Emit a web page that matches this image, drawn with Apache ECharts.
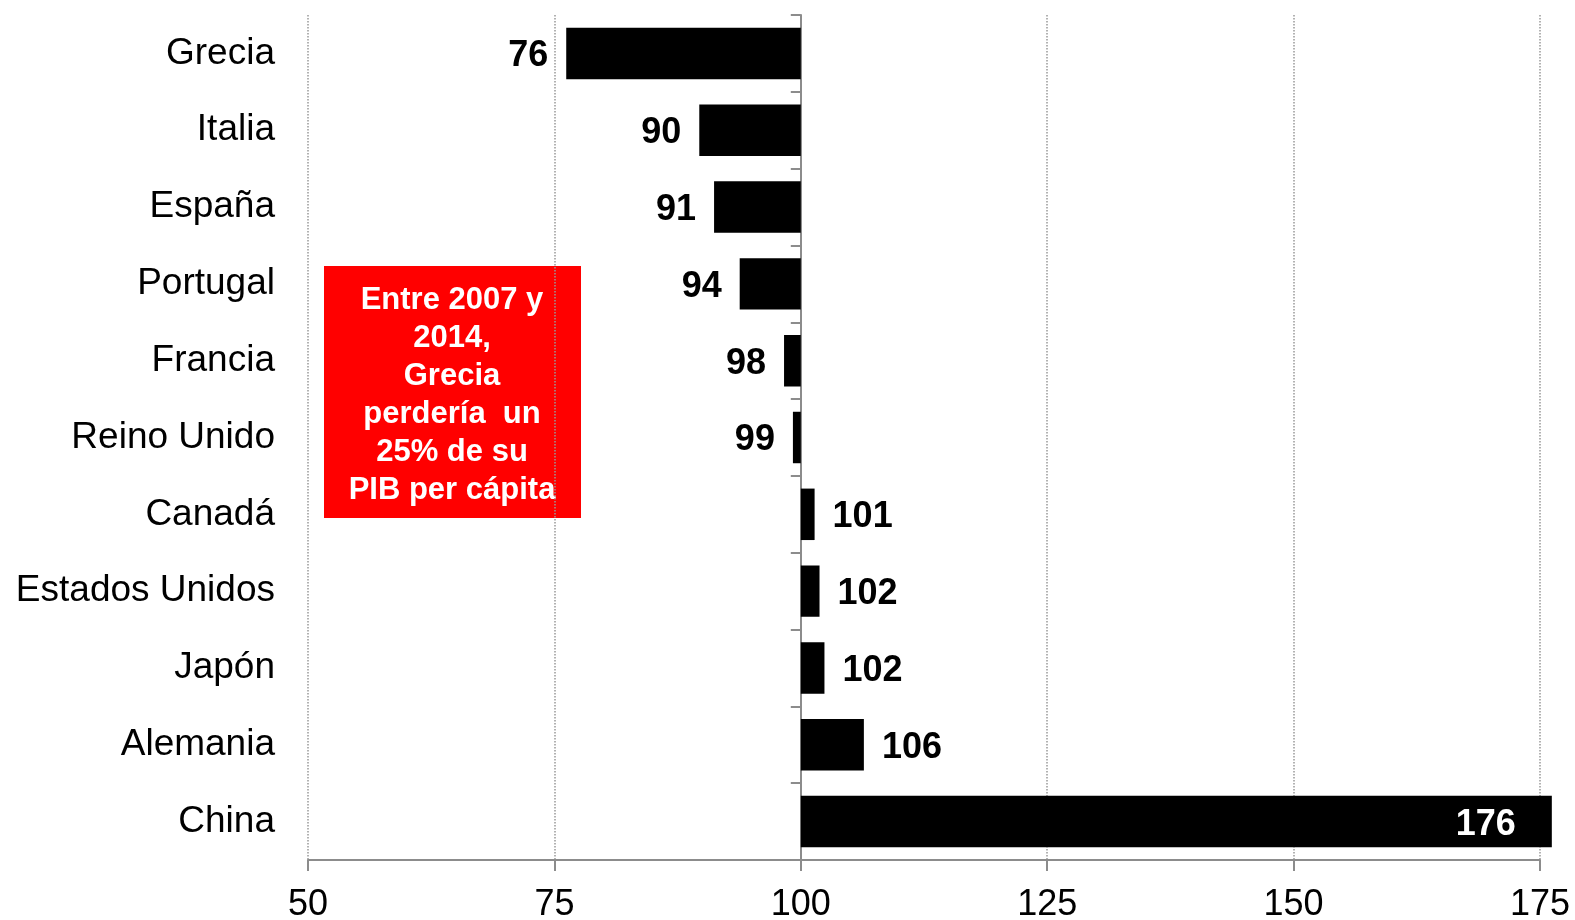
<!DOCTYPE html>
<html>
<head>
<meta charset="utf-8">
<script src="https://cdn.jsdelivr.net/npm/echarts@6/dist/echarts.min.js"></script>
<style>
  html, body { margin: 0; padding: 0; background: #fff; }
  #chart { width: 1575px; height: 920px; }
</style>
</head>
<body>
<div id="chart"></div>
<script>
// datos: PIB per cápita 2014 (2007 = 100)
const paises = ['Grecia', 'Italia', 'España', 'Portugal', 'Francia', 'Reino Unido',
  'Canadá', 'Estados Unidos', 'Japón', 'Alemania', 'China'];
const valores = [76.2, 89.7, 91.2, 93.8, 98.3, 99.2, 101.4, 101.9, 102.4, 106.4, 176.2];
const base = 100;
const ejeMin = 50;
const ejeMax = 175;
const ejeIntervalo = 25;
const notaTexto = 'Entre 2007 y\n2014,\nGrecia\nperdería  un\n25% de su\nPIB per cápita';

const fuente = '"Liberation Sans", Arial, sans-serif';
const gris = '#8c8c8c';

const gridLeft = 308, gridRight = 35, gridTop = 15, gridBottom = 60;
const gridWidth = 1575 - gridLeft - gridRight;
// la línea vertical con marcas va en x = 100
const offsetBase = -gridWidth * (base - ejeMin) / (ejeMax - ejeMin);

const chart = echarts.init(document.getElementById('chart'));

const option = {
  animation: false,
  textStyle: { fontFamily: fuente },
  grid: {
    left: gridLeft, right: gridRight, top: gridTop, bottom: gridBottom,
    outerBoundsMode: 'none'
  },
  xAxis: {
    type: 'value',
    min: ejeMin,
    max: ejeMax,
    interval: ejeIntervalo,
    axisLine: { show: true, lineStyle: { color: gris, width: 2 } },
    axisTick: { show: true, length: 11, lineStyle: { color: gris, width: 2 } },
    axisLabel: { fontSize: 36, color: '#000', margin: 27, fontFamily: fuente },
    splitLine: { show: true, lineStyle: { color: '#999', type: 'dotted', width: 1.5 } }
  },
  yAxis: [
    {
      type: 'category',
      data: paises,
      inverse: true,
      position: 'left',
      axisLine: { show: false },
      axisTick: { show: false },
      axisLabel: {
        fontSize: 37, color: '#000', margin: 33, fontFamily: fuente,
        padding: [6, 0, 0, 0]
      }
    },
    {
      type: 'category',
      data: paises,
      inverse: true,
      position: 'left',
      offset: offsetBase,
      axisLine: { show: true, lineStyle: { color: gris, width: 2 } },
      axisTick: { show: true, length: 10, lineStyle: { color: gris, width: 2 } },
      axisLabel: { show: false },
      splitLine: { show: false }
    }
  ],
  series: [{
    type: 'custom',
    xAxisIndex: 0,
    yAxisIndex: 0,
    z: 5,
    data: valores.map((v, i) => [v, i]),
    encode: { x: 0, y: 1 },
    renderItem: function (params, api) {
      const v = api.value(0);
      const cat = api.value(1);
      const p0 = api.coord([base, cat]);
      const p1 = api.coord([v, cat]);
      const h = api.size([0, 1])[1] * 0.67;
      let pos = v < base ? 'left' : 'right';
      let dist = 18;
      let color = '#000';
      if (v > ejeMax - 25) { pos = 'insideRight'; dist = 36; color = '#fff'; }
      return {
        type: 'rect',
        shape: {
          x: Math.min(p0[0], p1[0]),
          y: p0[1] - h / 2,
          width: Math.abs(p1[0] - p0[0]),
          height: h
        },
        style: { fill: '#000' },
        textContent: {
          style: {
            text: String(Math.round(v)),
            fill: color,
            font: 'bold 36px ' + fuente
          }
        },
        textConfig: { position: pos, distance: dist, offset: [0, 3] }
      };
    }
  }],
  graphic: [{
    type: 'group',
    left: 324,
    top: 266,
    z: 100,
    children: [
      {
        type: 'rect',
        shape: { x: 0, y: 0, width: 257, height: 252 },
        style: { fill: '#ff0000' }
      },
      {
        type: 'text',
        x: 128,
        y: 129,
        style: {
          text: notaTexto,
          fill: '#fff',
          font: 'bold 31px ' + fuente,
          lineHeight: 38,
          align: 'center',
          verticalAlign: 'middle'
        }
      }
    ]
  }]
};

chart.setOption(option);
</script>
</body>
</html>
